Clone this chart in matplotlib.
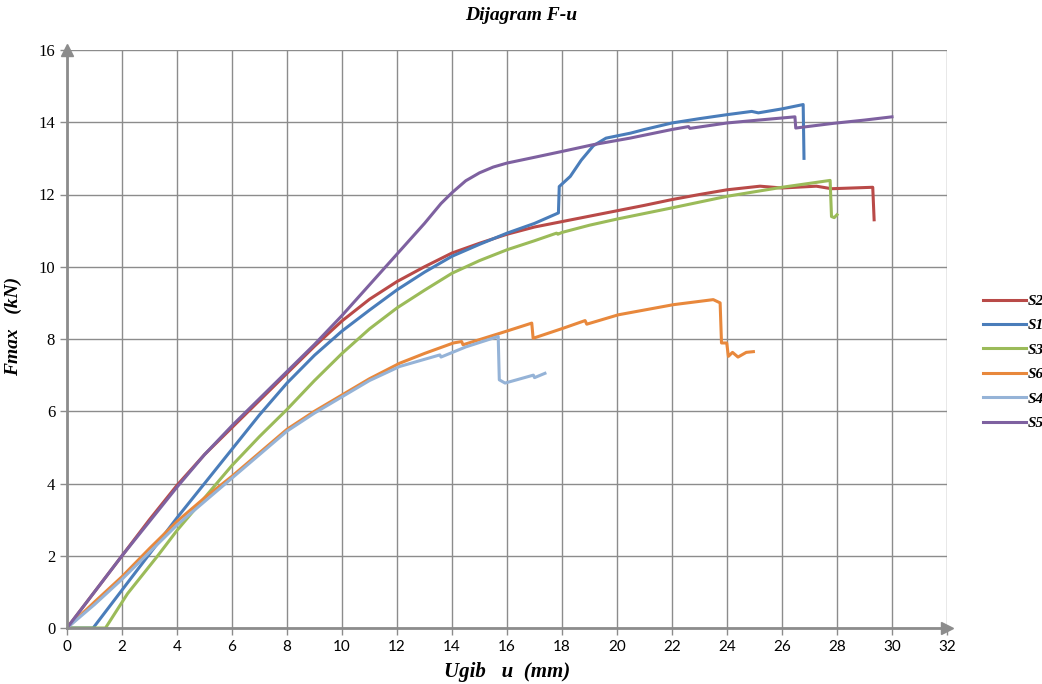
import numpy as np
import matplotlib
matplotlib.use('Agg')
import matplotlib.pyplot as plt

# series S2..S5, u (mm) and F (kN)
u_s2 = [0, 1, 2, 3, 4, 5, 6, 7, 8, 9, 10, 11, 12, 13, 14, 15, 16, 17, 18, 19, 20, 21, 22, 23, 24, 25.2, 26,
        27.25, 27.8, 29.3, 29.35]
f_s2 = [0, 1.0, 2.0, 3.0, 3.95, 4.8, 5.55, 6.3, 7.05, 7.8, 8.5, 9.1, 9.59, 10.0, 10.38, 10.65, 10.9, 11.1, 11.25,
        11.4, 11.55, 11.7, 11.86, 12.0, 12.13, 12.23, 12.18, 12.23, 12.16, 12.2, 11.3]

u_s1 = [0, 0.95, 2, 3, 4, 5, 6, 7, 8, 9, 10, 11, 12, 13, 14, 15, 16, 17, 17.87, 17.9, 18.3, 18.7, 19.14, 19.6,
        20.5, 21, 22, 23, 24, 24.9, 25.14, 26, 26.77, 26.8]
f_s1 = [0, 0, 1.05, 2.05, 3.05, 4.0, 4.95, 5.9, 6.78, 7.55, 8.22, 8.8, 9.36, 9.85, 10.29, 10.62, 10.93, 11.2,
        11.49, 12.22, 12.5, 12.95, 13.35, 13.56, 13.7, 13.8, 13.98, 14.1, 14.21, 14.3, 14.26, 14.37, 14.49, 13.0]

u_s3 = [0, 1.4, 2.2, 3.3, 4, 5.44, 6, 7, 8, 9, 10, 11, 12, 13, 14, 15, 16, 17, 17.8, 17.85, 18, 19, 20,
        22, 24, 26, 27.75, 27.8, 27.9, 28.0]
f_s3 = [0, 0, 0.95, 2.0, 2.7, 4.0, 4.5, 5.3, 6.05, 6.85, 7.6, 8.28, 8.86, 9.35, 9.82, 10.17, 10.47, 10.72,
        10.93, 10.9, 10.95, 11.15, 11.32, 11.63, 11.95, 12.2, 12.39, 11.39, 11.36, 11.44]

u_s6 = [0, 1, 2, 3, 4, 5, 6, 7, 8, 9, 10, 11, 12.1, 13, 14.05, 14.35, 14.4, 15.75, 16.9, 16.95, 18.05, 18.84,
        18.9, 20.05, 22.05, 23.5, 23.75, 23.8, 23.99, 24.05, 24.2, 24.4, 24.7, 24.96]
f_s6 = [0, 0.72, 1.42, 2.2, 2.95, 3.6, 4.2, 4.85, 5.5, 6.0, 6.45, 6.9, 7.33, 7.6, 7.89, 7.93, 7.84, 8.16, 8.44,
        8.02, 8.3, 8.51, 8.41, 8.67, 8.95, 9.09, 9.0, 7.89, 7.89, 7.52, 7.63, 7.5, 7.63, 7.65]

u_s4 = [0, 1, 2, 3, 4, 5, 6, 7, 8, 9, 10, 11, 12.1, 13.56, 13.6, 14.5, 15.68, 15.72, 15.93, 16.96, 17.0, 17.38]
f_s4 = [0, 0.65, 1.35, 2.1, 2.85, 3.5, 4.15, 4.8, 5.45, 5.95, 6.4, 6.85, 7.24, 7.56, 7.5, 7.78, 8.07, 6.87, 6.78,
        7.0, 6.93, 7.05]

u_s5 = [0, 1, 2, 3, 4, 5, 6, 7, 8, 9, 10, 11, 12, 13, 13.6, 14, 14.5, 15, 15.5, 16, 17, 18.05, 19.14, 20.47,
        22, 22.6, 22.65, 24, 25, 26.47, 26.5, 27.87, 29, 30]
f_s5 = [0, 1.0, 2.0, 2.95, 3.9, 4.8, 5.6, 6.35, 7.1, 7.85, 8.65, 9.5, 10.35, 11.2, 11.75, 12.05, 12.38, 12.6,
        12.76, 12.87, 13.03, 13.2, 13.38, 13.56, 13.8, 13.88, 13.83, 13.98, 14.05, 14.15, 13.84, 13.97, 14.06, 14.15]

names = ['S2', 'S1', 'S3', 'S6', 'S4', 'S5']
boje = ['#B94A48', '#4A7DBA', '#9BBB59', '#E8883C', '#95B3D7', '#7E61A0']

serif_bi = dict(family='Liberation Serif', weight='bold', style='italic')

fig = plt.figure(figsize=(10.42, 6.84), dpi=100)
ax = fig.add_axes([67 / 1042, 56 / 684, 880 / 1042, 578 / 684])

serije = [(u_s2, f_s2), (u_s1, f_s1), (u_s3, f_s3), (u_s6, f_s6), (u_s4, f_s4), (u_s5, f_s5)]
for (u, f), ime, c in zip(serije, names, boje):
    ax.plot(u, f, color=c, lw=2.2, label=ime, solid_joinstyle='round')

ax.set_xlim(0, 32)
ax.set_ylim(0, 16)
ax.set_xticks(np.arange(0, 33, 2))
ax.set_yticks(np.arange(0, 17, 2))
ax.grid(True, color='#8C8C8C', lw=1.0)
ax.set_axisbelow(True)
for s in ['top', 'right']:
    ax.spines[s].set_visible(False)
for s in ['left', 'bottom']:
    ax.spines[s].set_color('#8C8C8C')
    ax.spines[s].set_linewidth(2.0)
ax.tick_params(color='#8C8C8C', length=5, width=1, labelsize=11)
for t in ax.get_xticklabels():
    t.set_family('Lato')
for t in ax.get_yticklabels():
    t.set_family('Liberation Serif')
    t.set_fontsize(12)

# strelice na osima
ax.plot(32, 0, marker='>', color='#8C8C8C', ms=8, clip_on=False, zorder=5)
ax.plot(0, 16, marker='^', color='#8C8C8C', ms=8, clip_on=False, zorder=5)

fig.text(0.5, 0.977, 'Dijagram F-u', ha='center', va='center', fontsize=14, **serif_bi)
ax.set_xlabel('Ugib   u  (mm)', fontsize=15, labelpad=6, **serif_bi)
ax.set_ylabel('Fmax   (kN)', fontsize=14, **serif_bi)
ax.yaxis.set_label_coords(-0.051, 0.522)

leg = ax.legend(loc='center left', bbox_to_anchor=(1.025, 0.46), frameon=False, handlelength=2.8,
                handletextpad=0.15, labelspacing=0.7, prop=dict(size=11, **serif_bi))

fig.savefig('out.png', dpi=100)
